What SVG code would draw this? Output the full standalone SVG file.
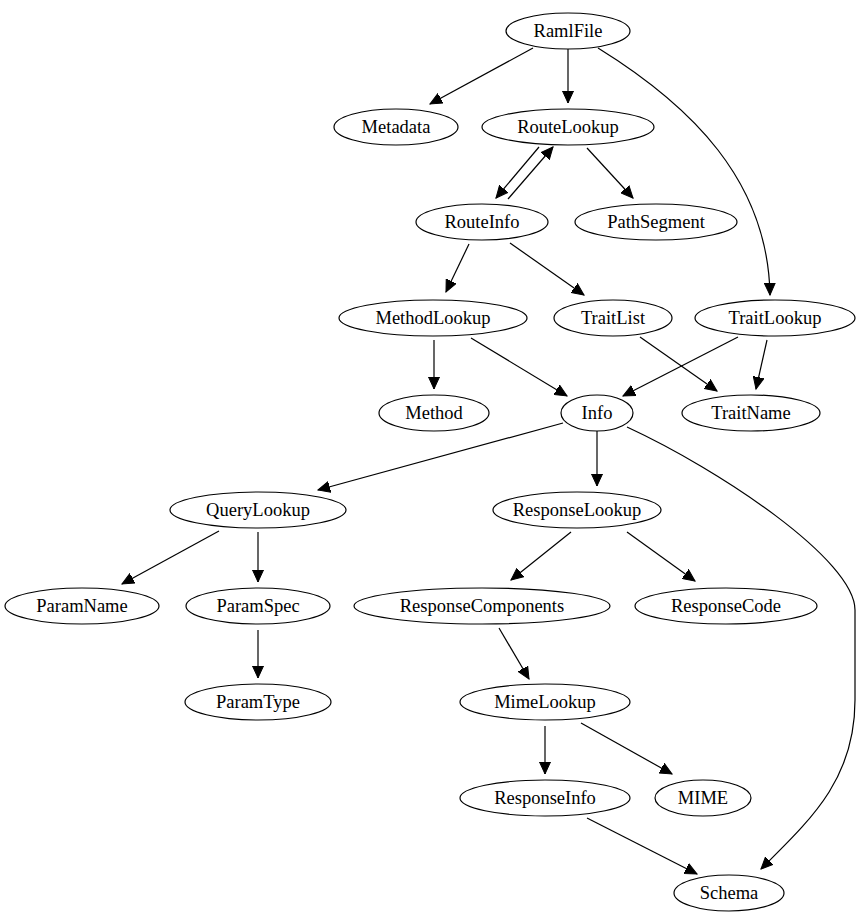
<svg xmlns="http://www.w3.org/2000/svg" width="860" height="923" viewBox="0 0 860 923">
<defs>
<style>
.n ellipse{fill:#fff;stroke:#000;stroke-width:1.2}
.n text{font-family:"Liberation Serif","Times New Roman",serif;font-size:18.5px;text-anchor:middle;fill:#000}
#edges path{fill:none;stroke:#000;stroke-width:1.2;marker-end:url(#ah)}
</style>
<marker id="ah" markerUnits="userSpaceOnUse" markerWidth="14" markerHeight="12" refX="12" refY="6" orient="auto">
<path d="M0,0.5 L12,6 L0,11.5 Z" fill="#000" stroke="#000" stroke-width="1"/>
</marker>
</defs>
<rect width="860" height="923" fill="#fff"/>
<g id="edges">
<path d="M533,48 L430,104"/>
<path d="M568,49 L568,103"/>
<path d="M598,48 C690,105 768,180 770,295"/>
<path d="M539,147 L496,198"/>
<path d="M508,199 L553,147"/>
<path d="M587,148 L633,198"/>
<path d="M469,244 L446,292"/>
<path d="M510,243 L584,295"/>
<path d="M434,340 L434,389"/>
<path d="M471,338 L567,396"/>
<path d="M738,337 L623,396"/>
<path d="M640,337 L717,391"/>
<path d="M767,340 L756,389"/>
<path d="M563,423 L318,490"/>
<path d="M597,431 L597,486"/>
<path d="M627,427 C720,470 855,560 855,610 L855,700 C855,780 810,820 761,869"/>
<path d="M219,531 L122,584"/>
<path d="M258,532 L258,582"/>
<path d="M571,532 L511,580"/>
<path d="M627,532 L695,581"/>
<path d="M258,630 L258,678"/>
<path d="M499,628 L529,679"/>
<path d="M545,726 L545,774"/>
<path d="M581,723 L672,774"/>
<path d="M587,818 L697,874"/>
</g>
<g id="RamlFile" class="n"><ellipse cx="568" cy="31" rx="62" ry="18"/><text x="568" y="37">RamlFile</text></g>
<g id="Metadata" class="n"><ellipse cx="396" cy="127" rx="62" ry="18"/><text x="396" y="133">Metadata</text></g>
<g id="RouteLookup" class="n"><ellipse cx="568" cy="127" rx="86" ry="18"/><text x="568" y="133">RouteLookup</text></g>
<g id="RouteInfo" class="n"><ellipse cx="482" cy="222" rx="66" ry="18"/><text x="482" y="228">RouteInfo</text></g>
<g id="PathSegment" class="n"><ellipse cx="656" cy="222" rx="81" ry="18"/><text x="656" y="228">PathSegment</text></g>
<g id="MethodLookup" class="n"><ellipse cx="433" cy="318" rx="94" ry="18"/><text x="433" y="324">MethodLookup</text></g>
<g id="TraitList" class="n"><ellipse cx="613" cy="318" rx="59" ry="18"/><text x="613" y="324">TraitList</text></g>
<g id="TraitLookup" class="n"><ellipse cx="775" cy="318" rx="80" ry="18"/><text x="775" y="324">TraitLookup</text></g>
<g id="Method" class="n"><ellipse cx="434" cy="413" rx="55" ry="18"/><text x="434" y="419">Method</text></g>
<g id="Info" class="n"><ellipse cx="597" cy="413" rx="36" ry="18"/><text x="597" y="419">Info</text></g>
<g id="TraitName" class="n"><ellipse cx="751" cy="413" rx="69" ry="18"/><text x="751" y="419">TraitName</text></g>
<g id="QueryLookup" class="n"><ellipse cx="258" cy="510" rx="88" ry="18"/><text x="258" y="516">QueryLookup</text></g>
<g id="ResponseLookup" class="n"><ellipse cx="577" cy="510" rx="84" ry="18"/><text x="577" y="516">ResponseLookup</text></g>
<g id="ParamName" class="n"><ellipse cx="82" cy="606" rx="77" ry="18"/><text x="82" y="612">ParamName</text></g>
<g id="ParamSpec" class="n"><ellipse cx="258" cy="606" rx="72" ry="18"/><text x="258" y="612">ParamSpec</text></g>
<g id="ResponseComponents" class="n"><ellipse cx="482" cy="606" rx="128" ry="18"/><text x="482" y="612">ResponseComponents</text></g>
<g id="ResponseCode" class="n"><ellipse cx="726" cy="606" rx="91" ry="18"/><text x="726" y="612">ResponseCode</text></g>
<g id="ParamType" class="n"><ellipse cx="258" cy="702" rx="73" ry="18"/><text x="258" y="708">ParamType</text></g>
<g id="MimeLookup" class="n"><ellipse cx="545" cy="702" rx="85" ry="18"/><text x="545" y="708">MimeLookup</text></g>
<g id="ResponseInfo" class="n"><ellipse cx="545" cy="798" rx="85" ry="18"/><text x="545" y="804">ResponseInfo</text></g>
<g id="MIME" class="n"><ellipse cx="703" cy="798" rx="48" ry="18"/><text x="703" y="804">MIME</text></g>
<g id="Schema" class="n"><ellipse cx="729" cy="893" rx="55" ry="18"/><text x="729" y="899">Schema</text></g>
</svg>
